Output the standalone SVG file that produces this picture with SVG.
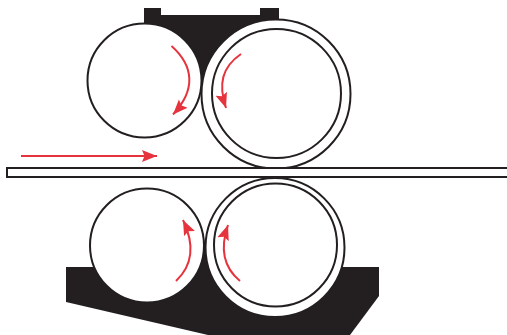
<svg xmlns="http://www.w3.org/2000/svg" width="507" height="335" viewBox="0 0 507 335">
<style>
.base{fill:#231f20;stroke:none}
.roll{fill:#fff;stroke:#231f20;stroke-width:2}
.flow{fill:none;stroke:#e5343d;stroke-width:2}
</style>
<defs>
<marker id="head" markerUnits="userSpaceOnUse" markerWidth="16" markerHeight="14" refX="15" refY="6" orient="auto" viewBox="0 0 16 12">
<path d="M0,0 L15,6 L0,12 L2.500,6 Z" fill="#e5343d"/>
</marker>
</defs>
<rect width="507" height="335" fill="#fff"/>
<g id="upper-frame"><path class="base" d="M144,8H161V15H260V8H279V50L201.500,88L144,50Z"/></g>
<g id="lower-frame"><path class="base" d="M66,267H379V296L350,335H208L66,302Z"/><path class="base" d="M190,280L204,240L220,280Z"/></g>
<g id="roll-upper-left"><circle class="roll" cx="144.500" cy="80.500" r="57"/></g>
<g id="roll-upper-right"><circle class="roll" cx="276" cy="94" r="74.500"/><circle class="roll" cx="276.500" cy="93.500" r="64.500"/></g>
<g id="roll-lower-left"><circle class="roll" cx="147" cy="245.500" r="57"/></g>
<g id="roll-lower-right"><circle class="roll" cx="275" cy="247.500" r="69.500"/><circle class="roll" cx="275.500" cy="245" r="61.500"/></g>
<g id="strip"><rect x="7" y="168" width="502" height="9" fill="#fff" stroke="#231f20" stroke-width="2"/></g>
<g id="connectors">
<path class="flow" marker-end="url(#head)" d="M21,156H157"/>
<path class="flow" marker-end="url(#head)" d="M171.500,46C194,66 196,90 173,114.500"/>
<path class="flow" marker-end="url(#head)" d="M241,54C222,67 218,84 226,108"/>
<path class="flow" marker-end="url(#head)" d="M176,281C193,265 195,245 183,220"/>
<path class="flow" marker-end="url(#head)" d="M240,281C223,267 220,248 228,225"/>
</g>
</svg>
